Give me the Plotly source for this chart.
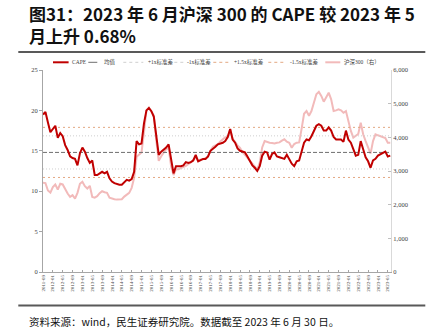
import plotly.graph_objects as go

# ---------------- data ----------------
months = []
y, m = 2011, 9
while (y, m) <= (2023, 6):
    months.append(f"{y}-{m:02d}")
    m += 1
    if m > 12:
        m = 1
        y += 1

cape = [19.5, 19.8, 18.5, 17.3, 17.7, 18.1, 16.6, 17.2, 16.8, 15.7,
        15.1, 14.3, 14.1, 14.0, 13.2, 14.7, 15.4, 14.9, 14.1, 13.5,
        13.8, 12.0, 12.0, 12.2, 12.4, 12.2, 12.4, 11.6, 11.2, 11.0,
        10.9, 10.8, 10.8, 11.1, 11.4, 11.3, 11.5, 12.4, 16.2, 15.8,
        15.9, 18.4, 20.0, 20.3, 19.9, 19.2, 16.5, 14.5, 14.9, 15.1,
        15.4, 15.8, 13.7, 12.2, 13.1, 13.1, 13.1, 13.2, 13.6, 13.5,
        13.6, 13.8, 14.5, 13.7, 13.9, 14.0, 14.0, 14.3, 15.0, 15.2,
        15.5, 15.8, 15.9, 16.0, 16.2, 16.7, 17.7, 16.4, 16.0, 15.3,
        15.0, 14.9, 14.8, 14.3, 13.7, 13.2, 12.9, 12.5, 13.1, 14.4,
        14.9, 14.8, 13.9, 14.6, 14.8, 14.3, 14.2, 14.1, 14.0, 14.5,
        13.9, 13.4, 13.1, 13.7, 13.8, 15.0, 16.0, 16.4, 16.3, 16.8,
        17.4, 18.1, 18.3, 18.1, 17.5, 17.5, 17.9, 17.5, 16.7, 16.4,
        16.4, 16.4, 16.1, 17.5, 16.4, 16.0, 15.2, 14.4, 14.5, 16.2,
        15.2, 14.2, 13.7, 12.9, 13.8, 14.0, 14.4, 14.6, 14.7, 14.9,
        14.3, 14.4]

csi300 = [2650, 2640, 2420, 2360, 2520, 2600, 2450, 2620, 2600, 2450,
          2330, 2230, 2280, 2180, 2350, 2620, 2680, 2550, 2480, 2560,
          2230, 2210, 2250, 2340, 2400, 2370, 2350, 2210, 2180, 2160,
          2150, 2160, 2160, 2240, 2310, 2350, 2500, 2800, 3420, 3500,
          3550, 4150, 4800, 4880, 4750, 4650, 3900, 3300, 3440, 3530,
          3650, 3680, 3150, 2880, 3050, 3050, 3080, 3100, 3150, 3200,
          3250, 3330, 3400, 3300, 3340, 3350, 3380, 3420, 3600, 3720,
          3760, 3800, 3880, 3940, 4000, 4000, 4240, 3960, 3840, 3760,
          3690, 3560, 3480, 3400, 3300, 3240, 3150, 3050, 3250, 3700,
          3890, 3860, 3840, 3830, 3815, 3840, 3850, 3900, 3940, 3870,
          3840, 3690, 3800, 3840, 3850, 4250, 4700, 4780, 4640, 4780,
          5030, 5280, 5350, 5230, 5060, 5180, 5325, 5130, 4780, 4800,
          4830, 4800, 4730, 4780, 4480, 4190, 3990, 4040, 4100, 4435,
          4090, 3890, 3700, 3515, 3890, 4090, 4060, 4040, 4010, 3980,
          3840, 3840]

mean_val = 14.8
plus1 = 16.85
minus1 = 12.75
plus15 = 17.9
minus15 = 11.7

tick_months = months[::4]

# ---------------- styles ----------------
RED = "#C00000"
PINK = "#F2BABA"
MEAN_C = "#6E6E6E"
SD1_C = "#CFCFCF"
SD15_C = "#E3A882"
SERIF = "Liberation Serif, Noto Sans CJK SC"
CJK = "Noto Sans CJK SC"

W, H = 437, 335
L, R, T, B = 42.7, 390.7, 70.0, 272.0


def px(xp):
    return (xp - L) / (R - L)


def py(yp):
    return (B - yp) / (B - T)


fig = go.Figure()

# CSI300 on primary (right) axis, drawn beneath
fig.add_trace(go.Scatter(x=months, y=csi300, mode="lines", name="沪深300（右）",
                         line=dict(color=PINK, width=2), yaxis="y"))

levels = [
    ("均值", mean_val, MEAN_C, "4px,2px", 1.0),
    ("+1x标准差", plus1, SD1_C, "1px,2px", 1.0),
    ("-1x标准差", minus1, SD1_C, "1px,2px", 1.0),
    ("+1.5x标准差", plus15, SD15_C, "2px,3px", 1.0),
    ("-1.5x标准差", minus15, SD15_C, "2px,3px", 1.0),
]
for name, v, c, d, w in levels:
    fig.add_trace(go.Scatter(x=[months[0], months[-1]], y=[v, v], mode="lines",
                             name=name, line=dict(color=c, width=w, dash=d),
                             yaxis="y2"))

fig.add_trace(go.Scatter(x=months, y=cape, mode="lines", name="CAPE",
                         line=dict(color=RED, width=2), yaxis="y2"))

fig.update_layout(
    width=W, height=H,
    margin=dict(l=L, r=W - R, t=T, b=H - B, pad=0),
    paper_bgcolor="white", plot_bgcolor="white",
    showlegend=False,
    xaxis=dict(type="category", range=[0, 141.3], tickmode="array",
               tickvals=tick_months, ticktext=tick_months, tickangle=-90,
               tickfont=dict(family=SERIF, size=5, color="#404040"),
               showline=True, linecolor="#A6A6A6", linewidth=1,
               ticks="inside", ticklen=2, tickcolor="#A6A6A6",
               showgrid=False, zeroline=False),
    yaxis=dict(side="right", range=[0, 6000], dtick=1000, tickformat=",",
               tickfont=dict(family=SERIF, size=6.5, color="#404040"),
               showline=True, linecolor="#D9D9D9", linewidth=1,
               ticks="inside", ticklen=3, tickcolor="#BFBFBF",
               showgrid=False, zeroline=False),
    yaxis2=dict(side="left", overlaying="y", range=[0, 25], dtick=5,
                tickfont=dict(family=SERIF, size=6.5, color="#404040"),
                showline=True, linecolor="#A6A6A6", linewidth=1,
                ticks="outside", ticklen=3, tickcolor="#A6A6A6",
                showgrid=False, zeroline=False),
)

shapes = []
annotations = []

# title (two lines in one text)
annotations.append(dict(xref="paper", yref="paper", x=px(27), y=py(24.5),
                        xanchor="left", yanchor="middle", showarrow=False, align="left",
                        text="<b>图31：2023 年 6 月沪深 300 的 CAPE 较 2023 年 5<br>月上升 0.68%</b>",
                        font=dict(family=CJK, size=17, color="#111111")))
# header / footer rules
shapes.append(dict(type="line", xref="paper", yref="paper", x0=px(18), x1=px(425),
                   y0=py(52), y1=py(52), line=dict(color="#595959", width=2)))
shapes.append(dict(type="line", xref="paper", yref="paper", x0=px(18), x1=px(425),
                   y0=py(305.5), y1=py(305.5), line=dict(color="#595959", width=2)))
# source
annotations.append(dict(xref="paper", yref="paper", x=px(26.5), y=py(321.5),
                        xanchor="left", yanchor="middle", showarrow=False,
                        text="资料来源：wind，民生证券研究院。数据截至 2023 年 6 月 30 日。",
                        font=dict(family=CJK, size=10.5, color="#111111")))

# manual legend
leg_y = 62.3
legend_items = [
    ("CAPE", 52.7, 68.3, 70.0, RED, "solid", 2),
    ("均值", 88.0, 100.0, 102.0, MEAN_C, "dash", 1),
    ("+1x标准差", 123.0, 143.0, 146.0, SD1_C, "dot", 1),
    ("-1x标准差", 168.0, 183.0, 185.0, SD1_C, "dot", 1),
    ("+1.5x标准差", 213.0, 230.0, 231.5, SD15_C, "dot", 1),
    ("-1.5x标准差", 268.0, 286.0, 287.5, SD15_C, "dot", 1),
    ("沪深300（右）", 325.0, 340.0, 341.5, PINK, "solid", 2),
]
for text, x0, x1, xt, c, d, w in legend_items:
    shapes.append(dict(type="line", xref="paper", yref="paper", x0=px(x0), x1=px(x1),
                       y0=py(leg_y), y1=py(leg_y), line=dict(color=c, width=w, dash=d)))
    annotations.append(dict(xref="paper", yref="paper", x=px(xt), y=py(leg_y),
                            xanchor="left", yanchor="middle", showarrow=False,
                            text=text, font=dict(family=SERIF, size=5.5, color="#404040")))

fig.update_layout(shapes=shapes, annotations=annotations)

fig.write_html("out.html")
